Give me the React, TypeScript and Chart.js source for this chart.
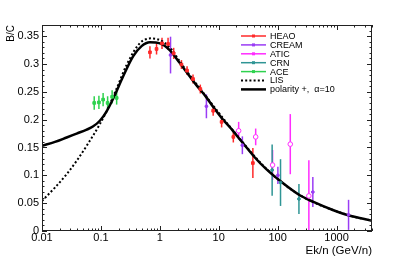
import React, { useEffect, useRef } from "react";
import { Chart, registerables } from "chart.js";

Chart.register(...registerables);

// ---------- data ----------
const heaoE = [0.68, 0.88, 1.09, 1.38, 1.72, 2.33, 2.9, 3.66, 4.87, 8.05, 11.2, 17.7, 38];
const heaoBC = [0.321, 0.327, 0.337, 0.336, 0.319, 0.299, 0.288, 0.273, 0.255, 0.216, 0.196, 0.169, 0.122];
const heaoErr = [0.011, 0.01, 0.01, 0.011, 0.01, 0.008, 0.008, 0.008, 0.008, 0.009, 0.01, 0.01, 0.027];

const creamE = [1.52, 6.18, 25.2, 101, 396, 1600];
const creamBC = [0.316, 0.224, 0.154, 0.1, 0.07, 0.029];
const creamErr = [0.033, 0.0215, 0.016, 0.0155, 0.027, 0.027];

const aticE = [21.8, 42.4, 82, 164, 339];
const aticBC = [0.18, 0.169, 0.1185, 0.156, 0.063];
const aticErr = [0.016, 0.015, 0.027, 0.054, 0.064];

const crnE = [80.7, 112, 230];
const crnBC = [0.1095, 0.087, 0.0575];
const crnErr = [0.046, 0.042, 0.027];

const aceE = [0.077, 0.0925, 0.109, 0.13, 0.155, 0.185];
const aceBC = [0.23, 0.231, 0.236, 0.23, 0.241, 0.239];
const aceErr = [0.012, 0.012, 0.012, 0.012, 0.012, 0.012];

const lisE = [0.01, 0.0166, 0.0262, 0.0387, 0.0573, 0.096, 0.125, 0.185, 0.272, 0.455, 0.72, 1.13, 1.58, 2.17, 3.21, 6.18, 15.3, 64.2, 234, 1638, 4000];
const lisBC = [0.054, 0.078, 0.102, 0.126, 0.153, 0.192, 0.215, 0.256, 0.298, 0.337, 0.346, 0.34, 0.326, 0.305, 0.28, 0.241, 0.188, 0.112, 0.065, 0.028, 0.0186];

const polE = [0.01, 0.0166, 0.0262, 0.0387, 0.0573, 0.0741, 0.096, 0.125, 0.162, 0.239, 0.354, 0.49, 0.678, 1.0, 1.47, 2.17, 3.21, 4.18, 6.18, 8.03, 11.6, 15.3, 25.7, 40.7, 64.2, 124, 234, 397, 866, 1638, 4000];
const polBC = [0.153, 0.16, 0.168, 0.175, 0.182, 0.188, 0.198, 0.215, 0.238, 0.278, 0.314, 0.332, 0.339, 0.337, 0.325, 0.302, 0.278, 0.262, 0.24, 0.223, 0.201, 0.187, 0.158, 0.1325, 0.111, 0.0856, 0.0646, 0.0526, 0.0377, 0.0278, 0.0185];

const seriesLabels = ["HEAO", "CREAM", "ATIC", "CRN", "ACE", "LIS", "polarity +,  \u03b1=10"];

const xTickValues = [0.01, 0.1, 1, 10, 100, 1000];
const xTickLabels = ["0.01", "0.1", "1", "10", "100", "1000"];
const yTickValues = [0, 0.05, 0.1, 0.15, 0.2, 0.25, 0.3, 0.35];
const yTickLabels = ["0", "0.05", "0.1", "0.15", "0.2", "0.25", "0.3", "0.35"];

const X_MIN = 0.01;
const X_MAX = 4000;
const Y_MIN = 0;
const Y_MAX = 0.37;

const FONT = "'Liberation Sans', Arial, Helvetica, sans-serif";

const pts = (xs: number[], ys: number[]) => xs.map((x, i) => ({ x, y: ys[i] }));

// ---------- plugins ----------
const errorBarPlugin = {
  id: "errorBars",
  beforeDatasetsDraw(chart: any) {
    const { ctx, chartArea, scales } = chart;
    ctx.save();
    ctx.beginPath();
    ctx.rect(chartArea.left, chartArea.top, chartArea.right - chartArea.left, chartArea.bottom - chartArea.top);
    ctx.clip();
    chart.data.datasets.forEach((ds: any) => {
      if (!ds.errors) return;
      ctx.strokeStyle = ds.borderColor;
      ctx.lineWidth = 1.5;
      ds.data.forEach((p: any, j: number) => {
        const x = scales.x.getPixelForValue(p.x);
        const y1 = scales.y.getPixelForValue(p.y - ds.errors[j]);
        const y2 = scales.y.getPixelForValue(p.y + ds.errors[j]);
        ctx.beginPath();
        ctx.moveTo(x, y1);
        ctx.lineTo(x, y2);
        ctx.stroke();
      });
    });
    ctx.restore();
  },
};

const framePlugin = {
  id: "frameTicks",
  afterDraw(chart: any) {
    const { ctx, chartArea, scales } = chart;
    const { left, right, top, bottom } = chartArea;
    ctx.save();
    ctx.strokeStyle = "#222";
    ctx.lineWidth = 1;
    ctx.strokeRect(left + 0.5, top + 0.5, right - left - 1, bottom - top - 1);
    const MAJ = 5;
    const MIN = 2.5;
    ctx.beginPath();
    for (let e = -2; e <= 3; e++) {
      for (let k = 1; k <= 9; k++) {
        const v = k * Math.pow(10, e);
        if (v < X_MIN || v > X_MAX) continue;
        const px = Math.round(scales.x.getPixelForValue(v)) + 0.5;
        const len = k === 1 ? MAJ : MIN;
        ctx.moveTo(px, bottom);
        ctx.lineTo(px, bottom - len);
        ctx.moveTo(px, top);
        ctx.lineTo(px, top + len);
      }
    }
    for (let i = 0; i <= 37; i++) {
      const v = i * 0.01;
      if (v > Y_MAX + 1e-9) continue;
      const py = Math.round(scales.y.getPixelForValue(v)) + 0.5;
      const len = i % 5 === 0 ? MAJ : MIN;
      ctx.moveTo(left, py);
      ctx.lineTo(left + len, py);
      ctx.moveTo(right, py);
      ctx.lineTo(right - len, py);
    }
    ctx.stroke();
    ctx.restore();
  },
};

const legendPlugin = {
  id: "customLegend",
  afterDraw(chart: any) {
    const { ctx } = chart;
    const x0 = 241;
    const x1 = 266;
    const tx = 270;
    const y0 = 36;
    const dy = 8.9;
    ctx.save();
    ctx.font = `9px ${FONT}`;
    ctx.textBaseline = "middle";
    ctx.textAlign = "left";
    chart.data.datasets.forEach((ds: any, i: number) => {
      const y = y0 + i * dy;
      ctx.save();
      ctx.strokeStyle = ds.borderColor;
      if (ds.isCurve) {
        ctx.lineWidth = ds.borderWidth;
        ctx.setLineDash(ds.borderDash || []);
      } else {
        ctx.lineWidth = 1.5;
      }
      ctx.beginPath();
      ctx.moveTo(x0, y);
      ctx.lineTo(x1, y);
      ctx.stroke();
      ctx.setLineDash([]);
      if (!ds.isCurve) {
        const cx = (x0 + x1) / 2;
        ctx.fillStyle = ds.borderColor;
        ctx.fillRect(cx - 1.5, y - 1.5, 3, 3);
      }
      ctx.restore();
      ctx.fillStyle = "#000";
      ctx.fillText(ds.label, tx, y + 0.5);
    });
    ctx.restore();
  },
};

// ---------- component ----------
export default function App() {
  const ref = useRef<HTMLCanvasElement | null>(null);

  useEffect(() => {
    document.body.style.margin = "0";
    const canvas = ref.current;
    if (!canvas) return;

    const red = "#ff2a2a";
    const purple = "#9a3cf5";
    const magenta = "#ff2cff";
    const teal = "#2f9595";
    const green = "#2ed24e";

    const dataset = (label: string, xs: number[], ys: number[], errs: number[], color: string, style: string, radius: number, fill: string) => ({
      label,
      data: pts(xs, ys),
      errors: errs,
      borderColor: color,
      backgroundColor: fill,
      pointBackgroundColor: fill,
      pointStyle: style,
      pointRadius: radius,
      pointBorderColor: color,
      pointBorderWidth: 1,
      pointHoverRadius: radius,
      showLine: false,
      order: 0,
    });

    const chart = new Chart(canvas, {
      type: "scatter",
      data: {
        datasets: [
          dataset(seriesLabels[0], heaoE, heaoBC, heaoErr, red, "rect", 1.9, red),
          dataset(seriesLabels[1], creamE, creamBC, creamErr, purple, "circle", 1.4, purple),
          dataset(seriesLabels[2], aticE, aticBC, aticErr, magenta, "circle", 2.3, "#ffffff"),
          dataset(seriesLabels[3], crnE, crnBC, crnErr, teal, "circle", 1.4, teal),
          dataset(seriesLabels[4], aceE, aceBC, aceErr, green, "rect", 1.9, green),
          {
            label: seriesLabels[5],
            data: pts(lisE, lisBC),
            isCurve: true,
            showLine: true,
            borderColor: "#000",
            backgroundColor: "#000",
            borderWidth: 2,
            borderDash: [2, 2.2],
            pointRadius: 0,
            cubicInterpolationMode: "monotone",
            order: 11,
          },
          {
            label: seriesLabels[6],
            data: pts(polE, polBC),
            isCurve: true,
            showLine: true,
            borderColor: "#000",
            backgroundColor: "#000",
            borderWidth: 2.5,
            pointRadius: 0,
            cubicInterpolationMode: "monotone",
            order: 10,
          },
        ] as any,
      },
      options: {
        responsive: false,
        animation: false,
        events: [],
        layout: { padding: { left: 0, top: 25, right: 43, bottom: 0 } },
        plugins: {
          legend: { display: false },
          tooltip: { enabled: false },
        },
        scales: {
          x: {
            type: "logarithmic",
            min: X_MIN,
            max: X_MAX,
            afterFit: (s: any) => {
              s.height = 27;
            },
            afterBuildTicks: (s: any) => {
              s.ticks = xTickValues.map((v) => ({ value: v }));
            },
            grid: { display: false, drawTicks: false },
            border: { display: false },
            ticks: {
              autoSkip: false,
              maxRotation: 0,
              padding: 0,
              color: "#000",
              font: { family: FONT, size: 11 },
              callback: (v: any) => {
                const idx = xTickValues.findIndex((t) => Math.abs(Math.log10(t) - Math.log10(Number(v))) < 1e-6);
                return idx >= 0 ? xTickLabels[idx] : "";
              },
            },
            title: {
              display: true,
              text: "Ek/n (GeV/n)",
              align: "end",
              color: "#000",
              font: { family: FONT, size: 11.5 },
              padding: { top: 0, bottom: 0 },
            },
          },
          y: {
            type: "linear",
            min: Y_MIN,
            max: Y_MAX,
            afterFit: (s: any) => {
              s.width = 42;
            },
            afterBuildTicks: (s: any) => {
              s.ticks = yTickValues.map((v) => ({ value: v }));
            },
            grid: { display: false, drawTicks: false },
            border: { display: false },
            ticks: {
              autoSkip: false,
              padding: 3,
              color: "#000",
              font: { family: FONT, size: 11 },
              callback: (v: any) => {
                const idx = yTickValues.findIndex((t) => Math.abs(t - Number(v)) < 1e-9);
                return idx >= 0 ? yTickLabels[idx] : "";
              },
            },
            title: {
              display: true,
              text: "B/C",
              align: "end",
              color: "#000",
              font: { family: FONT, size: 10 },
              padding: { top: 5, bottom: 0 },
            },
          },
        },
      } as any,
      plugins: [errorBarPlugin, framePlugin, legendPlugin],
    });

    return () => {
      chart.destroy();
    };
  }, []);

  return (
    <div style={{ position: "absolute", left: 0, top: 0, width: 415, height: 258, background: "#fff" }}>
      <canvas ref={ref} width={415} height={258} style={{ display: "block", width: 415, height: 258 }} />
    </div>
  );
}
